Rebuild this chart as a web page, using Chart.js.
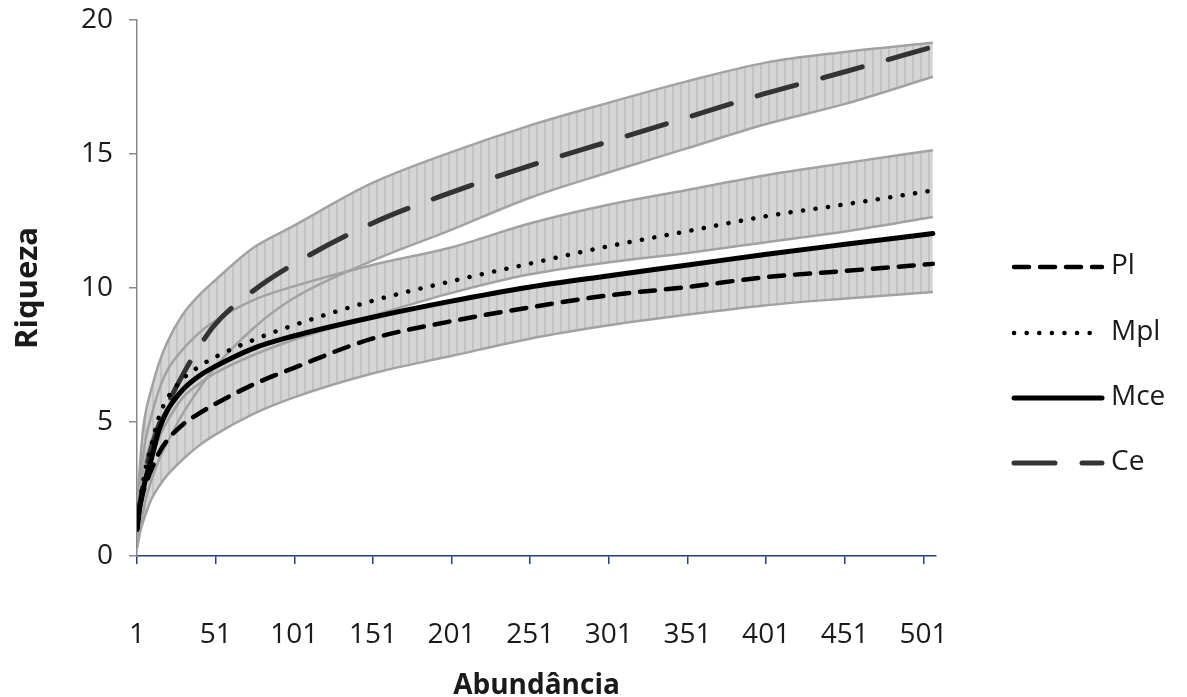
<!DOCTYPE html>
<html>
<head>
<meta charset="utf-8">
<script src="https://cdn.jsdelivr.net/npm/chart.js@4.4.1/dist/chart.umd.min.js"></script>
<style>
  html, body { margin: 0; padding: 0; background: #fff; }
  #wrap { width: 1187px; height: 697px; }
</style>
</head>
<body>
<div id="wrap"><canvas id="chart"></canvas></div>
<script>
const abundance = [1, 2, 3, 5, 7, 10, 15, 20, 30, 40, 50, 75, 100, 150, 200, 250, 300, 350, 400, 450, 507];
const xTickValues = [1, 51, 101, 151, 201, 251, 301, 351, 401, 451, 501];
const seriesNames = ['Pl', 'Mpl', 'Mce', 'Ce'];

// mean richness curves
const pl  = [1.0, 1.5, 1.9, 2.4, 2.75, 3.2, 3.85, 4.3, 4.9, 5.3, 5.65, 6.4, 7.0, 8.1, 8.75, 9.27, 9.72, 10.03, 10.4, 10.63, 10.9];
const mpl = [1.0, 1.6, 2.1, 2.8, 3.4, 4.1, 5.2, 5.85, 6.6, 7.05, 7.4, 8.06, 8.6, 9.51, 10.24, 10.9, 11.55, 12.11, 12.67, 13.11, 13.64];
const mce = [1.0, 1.5, 1.9, 2.5, 3.0, 3.6, 4.7, 5.4, 6.2, 6.7, 7.05, 7.75, 8.2, 8.9, 9.5, 10.03, 10.45, 10.85, 11.25, 11.62, 12.03];
const ce  = [1.0, 1.6, 2.0, 2.7, 3.3, 4.0, 4.9, 5.6, 6.75, 7.75, 8.6, 9.9, 10.87, 12.4, 13.55, 14.55, 15.45, 16.35, 17.25, 18.05, 19.0];

// error bar limits (lower / upper)
const plLow   = [0.3, 0.6, 0.9, 1.3, 1.65, 2.1, 2.6, 3.0, 3.6, 4.1, 4.5, 5.3, 5.9, 6.8, 7.45, 8.1, 8.6, 9.0, 9.35, 9.6, 9.85];
const plHigh  = [1.5, 2.1, 2.6, 3.2, 3.7, 4.3, 5.0, 5.5, 6.2, 6.65, 7.0, 7.75, 8.2, 8.85, 9.45, 10.0, 10.4, 10.8, 11.2, 11.6, 12.0];
const mplLow  = [0.5, 1.0, 1.5, 2.2, 2.8, 3.5, 4.4, 5.0, 5.9, 6.4, 6.8, 7.5, 8.05, 8.95, 9.8, 10.5, 10.95, 11.3, 11.7, 12.1, 12.65];
const mplHigh = [1.5, 2.3, 2.9, 3.8, 4.5, 5.2, 6.2, 6.9, 7.7, 8.3, 8.75, 9.55, 10.05, 10.85, 11.5, 12.4, 13.1, 13.65, 14.2, 14.65, 15.14];
const ceLow   = [0.3, 0.7, 1.1, 1.7, 2.2, 2.8, 3.6, 4.2, 5.3, 6.2, 7.0, 8.5, 9.6, 11.0, 12.15, 13.35, 14.3, 15.2, 16.1, 16.85, 17.88];
const ceHigh  = [1.8, 2.7, 3.5, 4.8, 5.5, 6.2, 7.2, 7.95, 9.0, 9.7, 10.25, 11.5, 12.3, 13.9, 15.05, 16.05, 16.9, 17.7, 18.4, 18.8, 19.15];

const FONT = '"Open Sans", "Noto Sans", sans-serif';
const pts = arr => abundance.map((x, i) => ({ x, y: arr[i] }));

const canvas = document.getElementById('chart');
const ctx = canvas.getContext('2d');

// opaque light grey band with faint vertical stripes (the packed error bars)
function stripes() {
  const c = document.createElement('canvas');
  c.width = 8; c.height = 8;
  const g = c.getContext('2d');
  g.fillStyle = '#d5d5d5';
  g.fillRect(0, 0, 8, 8);
  g.fillStyle = '#c3c3c3';
  g.fillRect(0, 0, 2, 8);
  return ctx.createPattern(c, 'repeat');
}
const bandFill = stripes();

const lines = [
  { label: 'Pl',  data: pts(pl),  borderColor: '#000', borderWidth: 4.5, borderDash: [15, 11] },
  { label: 'Mpl', data: pts(mpl), borderColor: '#000', borderWidth: 4.5, borderDash: [0.1, 12.5] },
  { label: 'Mce', data: pts(mce), borderColor: '#000', borderWidth: 5,   borderDash: [] },
  { label: 'Ce',  data: pts(ce),  borderColor: '#333', borderWidth: 5,   borderDash: [41, 27] },
].map(d => Object.assign(d, { borderCapStyle: 'round', pointRadius: 0, cubicInterpolationMode: 'monotone', fill: false }));

const bands = [[plLow, plHigh], [mplLow, mplHigh], [ceLow, ceHigh]];
const bandSets = [];
bands.forEach(([lo, hi]) => {
  const loIndex = lines.length + bandSets.length;
  const common = { pointRadius: 0, cubicInterpolationMode: 'monotone', borderColor: '#a2a2a2', borderWidth: 2.5 };
  bandSets.push(Object.assign({ label: '', data: pts(lo), fill: false }, common));
  bandSets.push(Object.assign({ label: '', data: pts(hi), fill: loIndex, backgroundColor: bandFill }, common));
});

const sideLegend = {
  id: 'sideLegend',
  afterDraw(chart) {
    const c = chart.ctx;
    const rows = [267, 333, 398, 463];
    chart.data.datasets.slice(0, seriesNames.length).forEach((ds, i) => {
      c.save();
      c.strokeStyle = ds.borderColor;
      c.lineWidth = ds.borderWidth;
      c.lineCap = 'round';
      c.setLineDash(ds.borderDash);
      c.beginPath();
      c.moveTo(1014, rows[i]);
      c.lineTo(1102, rows[i]);
      c.stroke();
      c.setLineDash([]);
      c.fillStyle = '#1a1a1a';
      c.font = '28px ' + FONT;
      c.textBaseline = 'middle';
      c.fillText(seriesNames[i], 1111, rows[i] - 1);
      c.restore();
    });
  }
};

new Chart(canvas, {
  type: 'line',
  data: { datasets: [...lines, ...bandSets] },
  plugins: [sideLegend],
  options: {
    responsive: true,
    maintainAspectRatio: false,
    animation: false,
    layout: { autoPadding: false, padding: { top: 20, right: 251, left: 0, bottom: 0 } },
    plugins: {
      legend: { display: false },
      tooltip: { enabled: false },
      filler: { drawTime: 'beforeDatasetsDraw' }
    },
    scales: {
      x: {
        type: 'linear',
        min: 1,
        max: 509,
        afterBuildTicks: s => { s.ticks = xTickValues.map(v => ({ value: v })); },
        afterFit: s => { s.height = 141; s.paddingLeft = 0; s.paddingRight = 0; },
        ticks: { color: '#1a1a1a', font: { family: FONT, size: 28 }, padding: 54, maxRotation: 0, autoSkip: false },
        grid: { drawOnChartArea: false, drawTicks: true, tickLength: 8, color: '#23407a', lineWidth: 1.5 },
        border: { color: '#23407a', width: 1.5 },
        title: { display: true, text: 'Abundância', color: '#1a1a1a', font: { family: FONT, size: 28, weight: 'bold' }, padding: { top: 0, bottom: -6 } }
      },
      y: {
        min: 0,
        max: 20,
        afterFit: s => { s.width = 137; s.paddingTop = 0; s.paddingBottom = 0; },
        ticks: { stepSize: 5, color: '#1a1a1a', font: { family: FONT, size: 28 }, padding: 16 },
        grid: { drawOnChartArea: false, drawTicks: true, tickLength: 8, color: '#888', lineWidth: 1.5 },
        border: { color: '#888', width: 1.5 },
        title: { display: true, text: 'Riqueza', color: '#1a1a1a', font: { family: FONT, size: 31, weight: 'bold' }, padding: { top: 10, bottom: 0 } }
      }
    }
  }
});
</script>
</body>
</html>
